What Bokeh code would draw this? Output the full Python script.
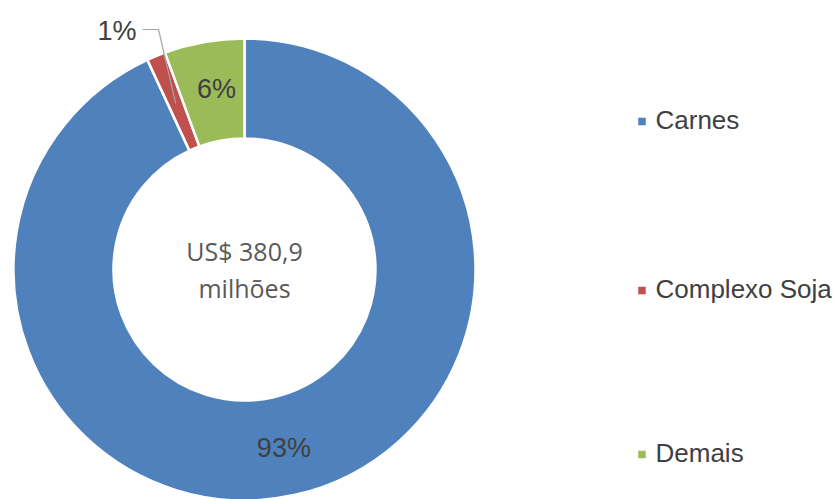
import numpy as np
from bokeh.plotting import figure
from bokeh.models import Range1d, ColumnDataSource
from bokeh.core.properties import value
from bokeh.embed import file_html
from bokeh.resources import INLINE

# ---- data ----
categories = ["Carnes", "Complexo Soja", "Demais"]
values = [354.6, 5.0, 21.3]          # US$ milhões (total 380,9)
pct_labels = ["93%", "1%", "6%"]
colors = ["#4F81BD", "#C0504D", "#9BBB59"]
center_lines = ["US$ 380,9", "milhões"]

W, H = 836, 499
p = figure(width=W, height=H, output_backend="svg", toolbar_location=None,
           x_range=Range1d(0, W), y_range=Range1d(0, H), min_border=0)
p.axis.visible = False
p.grid.visible = False
p.outline_line_color = None
p.background_fill_color = "white"
p.border_fill_color = "white"

cx, cy = 244, 230
r_out, r_in = 231, 131

vals = np.array(values, dtype=float)
frac = vals / vals.sum()
cum = np.concatenate([[0], np.cumsum(frac)])
start = np.pi / 2 - 2 * np.pi * cum[:-1]
end = np.pi / 2 - 2 * np.pi * cum[1:]
mid = (start + end) / 2

src = ColumnDataSource(dict(x=[cx] * 3, y=[cy] * 3, start=start, end=end, color=colors))
p.annular_wedge(x="x", y="y", inner_radius=r_in, outer_radius=r_out,
                start_angle="start", end_angle="end", direction="clock",
                fill_color="color", line_color="white", line_width=2.5, source=src)

# inside labels (Carnes, Demais)
r_lab = 183
for i in [0, 2]:
    p.text(x=[cx + r_lab * np.cos(mid[i]) + (4 if i == 2 else 0)],
           y=[cy + r_lab * np.sin(mid[i])],
           text=[pct_labels[i]], text_align="center", text_baseline="middle",
           text_font=value("Liberation Sans"), text_font_size="27px",
           text_color="#404040")

# outside label with leader line (Complexo Soja)
r_lead = 180
ex, ey = cx + r_lead * np.cos(mid[1]), cy + r_lead * np.sin(mid[1])
p.line(x=[ex, 158, 142], y=[ey, 470, 470], line_color="#A6A6A6", line_width=1.2)
p.text(x=[136], y=[469], text=[pct_labels[1]], text_align="right",
       text_baseline="middle", text_font=value("Liberation Sans"),
       text_font_size="27px", text_color="#404040")

# center text
p.text(x=[cx, cx], y=[cy + 19, cy - 18], text=center_lines,
       text_align="center", text_baseline="middle",
       text_font=value("Open Sans"), text_font_size="25px", text_color="#595959")

# legend
leg_y = [378, 209, 45]
p.rect(x=[641.5] * 3, y=leg_y, width=7.5, height=7.5, fill_color=colors,
       line_color=None)
p.text(x=[655] * 3, y=[v + 2 for v in leg_y], text=categories, text_align="left",
       text_baseline="middle", text_font=value("Liberation Sans"),
       text_font_size="26px", text_color="#404040")

open("out.html", "w").write(file_html(p, INLINE))
